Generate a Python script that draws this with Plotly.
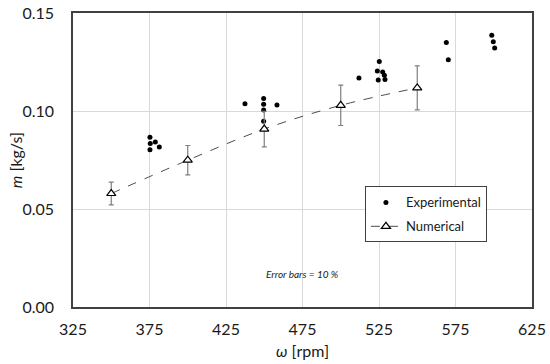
import plotly.graph_objects as go

# Experimental data
exp_rpm = [375.3, 375.5, 378.8, 381.4, 375.3,
           437.4, 449.6, 449.6, 449.6, 449.6, 458.3,
           511.9, 525.2, 523.9, 527.4, 528.5, 524.5, 528.9,
           569.0, 570.3,
           598.7, 599.7, 600.6]
exp_m = [0.0866, 0.0834, 0.0842, 0.0816, 0.0802,
         0.1037, 0.1064, 0.1034, 0.1005, 0.0948, 0.1030,
         0.1168, 0.1253, 0.1204, 0.1199, 0.1182, 0.1158, 0.1161,
         0.1350, 0.1261,
         0.1386, 0.1353, 0.1321]

# Numerical data
num_rpm = [350, 400, 450, 500, 550]
num_m = [0.0579, 0.0749, 0.0908, 0.1029, 0.1118]
err_pct = 10

x_ticks = [325, 375, 425, 475, 525, 575, 625]
y_ticks = [0.00, 0.05, 0.10, 0.15]

FONT = "Lato, 'Open Sans', sans-serif"
TXT = "#1a1a1a"

fig = go.Figure()
fig.add_trace(go.Scatter(
    x=exp_rpm, y=exp_m, mode="markers", name="Experimental",
    legendgroup="a",
    marker=dict(symbol="circle", size=5, color="black"),
))
fig.add_trace(go.Scatter(
    x=num_rpm, y=num_m, mode="lines+markers", name="Numerical",
    legendgroup="b",
    line=dict(color="#4d4d4d", width=1, dash="dash", shape="spline"),
    marker=dict(symbol="triangle-up", size=8, color="white",
                line=dict(color="black", width=1.2)),
    error_y=dict(type="percent", value=err_pct, color="#7f7f7f",
                 thickness=1.2, width=2.5),
))

fig.add_annotation(
    x=0.5, y=0.085, xref="paper", yref="paper",
    text="<i>Error bars = 10 %</i>", showarrow=False,
    font=dict(family=FONT, size=10, color=TXT),
)
# axis titles
fig.add_annotation(
    x=0.5, y=-0.147, xref="paper", yref="paper", yanchor="middle",
    text="<i>ω</i> [rpm]", showarrow=False,
    font=dict(family=FONT, size=16, color=TXT),
)
fig.add_annotation(
    x=-0.126, y=0.5, xref="paper", yref="paper", xanchor="center", yanchor="middle",
    text="<i>m</i> [kg/s]", showarrow=False, textangle=-90,
    font=dict(family=FONT, size=16, color=TXT),
)

axis_common = dict(
    showline=True, mirror=True, linecolor="#404040", linewidth=1.5,
    showgrid=True, gridcolor="#d9d9d9", gridwidth=1,
    zeroline=False, ticks="", automargin=False,
    tickfont=dict(family=FONT, size=16, color=TXT),
)

fig.update_layout(
    width=550, height=364,
    margin=dict(l=73, r=18, t=13, b=57, autoexpand=False),
    paper_bgcolor="white", plot_bgcolor="white",
    font=dict(family=FONT, color=TXT),
    xaxis=dict(range=[325, 625], tickvals=x_ticks, ticklabelstandoff=7,
               **axis_common),
    yaxis=dict(range=[0, 0.15], tickvals=y_ticks, tickformat=".2f", ticklabelstandoff=14,
               **axis_common),
    legend=dict(x=0.636, y=0.41, xanchor="left", yanchor="top",
                bordercolor="#404040", borderwidth=1, bgcolor="white",
                font=dict(family=FONT, size=13, color=TXT),
                itemwidth=30, tracegroupgap=4, traceorder="grouped"),
    showlegend=True,
)

fig.write_html("out.html", config={"displayModeBar": False},
               post_script="document.body.style.margin='0';")
